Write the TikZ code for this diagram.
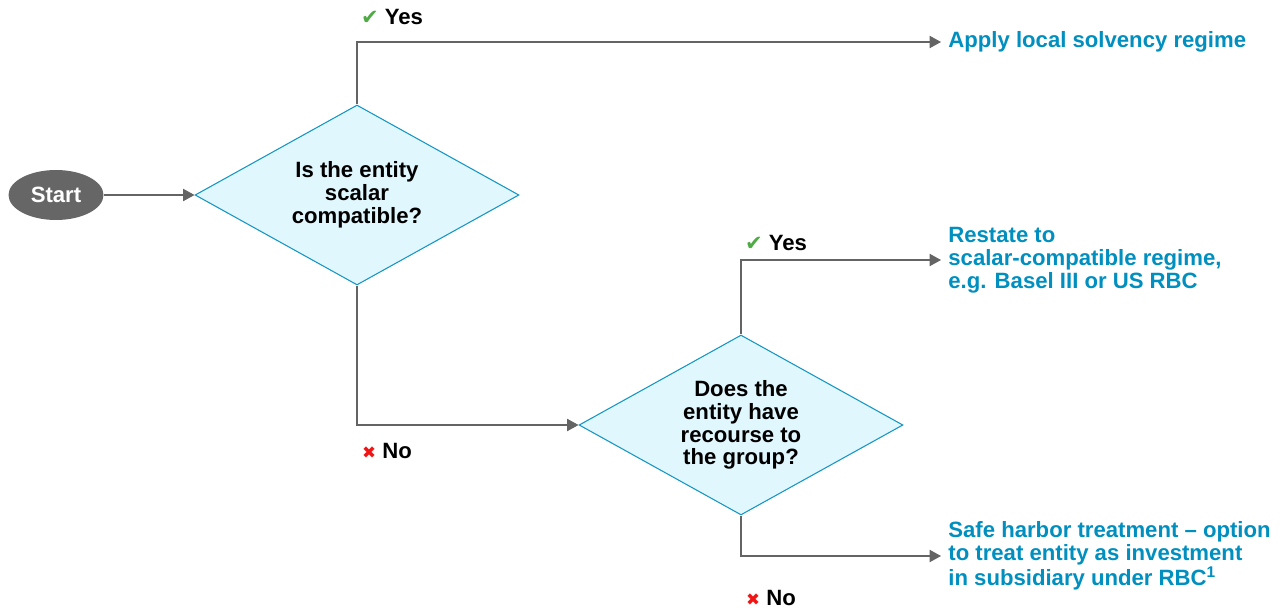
\documentclass[tikz,border=0pt]{standalone}
\usepackage{fontspec}
\setmainfont{Liberation Sans}
\newfontfamily\symfont{DejaVu Sans}
\usetikzlibrary{shapes.geometric,arrows.meta}

\definecolor{flowgray}{RGB}{100,100,100}
\definecolor{startgray}{RGB}{102,102,102}
\definecolor{qborder}{RGB}{20,150,195}
\definecolor{qfill}{RGB}{224,247,253}
\definecolor{outblue}{RGB}{0,143,190}
\definecolor{tickgreen}{RGB}{80,170,70}
\definecolor{crossred}{RGB}{240,20,20}

\newcommand{\yesmark}{{\symfont\fontsize{12}{12}\selectfont\color{tickgreen}✔}}
\newcommand{\nomark}{{\symfont\fontsize{9.5}{9.5}\selectfont\color{crossred}✖}}

\begin{document}
\begin{tikzpicture}[
  x=0.02cm, y=-0.02cm,
  font=\bfseries\fontsize{12.6}{13}\selectfont,
  startnode/.style={ellipse, fill=startgray, text=white, minimum width=1.9cm, minimum height=1cm, inner sep=0pt},
  question/.style={diamond, aspect=1.8, draw=qborder, fill=qfill, line width=0.6pt, minimum width=6.48cm, minimum height=3.6cm, inner sep=0pt, align=center},
  outcome/.style={anchor=west, text=outblue, align=left, inner xsep=4pt, inner ysep=0pt},
  answer/.style={inner sep=0pt},
  flow/.style={draw=flowgray, line width=0.6pt, -{Triangle[length=6.5pt, width=7pt]}}
]
  \useasboundingbox (0,0) rectangle (1284,612);

  % Start and the two questions
  \node[startnode] (start) at (56,195) {Start};
  \node[question] (q1) at (357,195) {Is the entity\\scalar\\compatible?};
  \node[question] (q2) at (741,425) {Does the\\entity have\\recourse to\\the group?};

  % Outcomes
  \node[outcome] (local) at (941,42) {Apply local solvency regime};
  \node[outcome] (restate) at (941,260) {Restate to\\scalar-compatible regime,\\e.g. Basel III or US RBC};
  \node[outcome] (safe) at (941,556) {Safe harbor treatment -- option\\to treat entity as investment\\in subsidiary under RBC\textsuperscript{1}};

  % Connectors
  \draw[flow] (start) -- (q1);
  \draw[flow] (q1.north) |- (local.west);
  \draw[flow] (q1.south) |- (q2.west);
  \draw[flow] (q2.north) |- (restate.west);
  \draw[flow] (q2.south) |- (safe.west);

  % Yes / No labels
  \node[answer] (yes1) at (392,17) {\yesmark\ Yes};
  \node[answer] (no1) at (387,451) {\nomark\ No};
  \node[answer] (yes2) at (776,243) {\yesmark\ Yes};
  \node[answer] (no2) at (771,598) {\nomark\ No};
\end{tikzpicture}
\end{document}
